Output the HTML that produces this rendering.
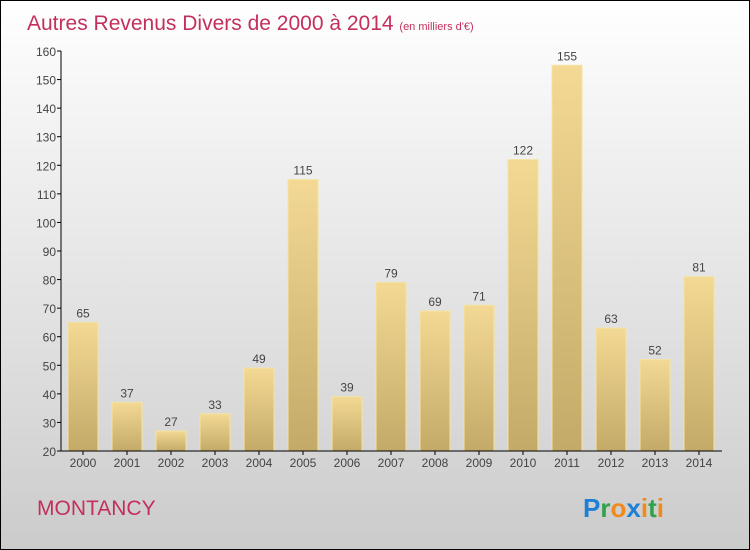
<!DOCTYPE html>
<html><head><meta charset="utf-8"><style>
body{margin:0}
#c{position:relative;width:748px;height:548px;border:1px solid #000;background:linear-gradient(#fff,#f4f4f4 20%,#d9d9d9 75%,#cbcbcb);font-family:"Liberation Sans",sans-serif;overflow:hidden}
</style></head><body>
<div id="c">
<svg width="748" height="548">
<defs><linearGradient id="g" x1="0" y1="0" x2="0" y2="1"><stop offset="0" stop-color="#f3d993"/><stop offset="1" stop-color="#c3aa68"/></linearGradient></defs>
<text x="26" y="29" font-size="21" fill="#c3305c">Autres Revenus Divers de 2000 à 2014 <tspan font-size="11">(en milliers d'€)</tspan></text>
<g id="plot"></g>
<text x="36" y="514" font-size="21" fill="#c3305c">MONTANCY</text>
<text x="582" y="516" font-size="26" font-weight="bold"><tspan fill="#1e7fd6">P</tspan><tspan fill="#2ea34a">r</tspan><tspan fill="#f08a1c">o</tspan><tspan fill="#1e7fd6">x</tspan><tspan fill="#f08a1c">i</tspan><tspan fill="#2ea34a">t</tspan><tspan fill="#f08a1c">i</tspan></text>
</svg></div>
<script>
const categories=["2000","2001","2002","2003","2004","2005","2006","2007","2008","2009","2010","2011","2012","2013","2014"];
const values=[65,37,27,33,49,115,39,79,69,71,122,155,63,52,81];
const ticks=[20,30,40,50,60,70,80,90,100,110,120,130,140,150,160];
const NS="http://www.w3.org/2000/svg";
const g=document.getElementById('plot');
const y=v=>450-(v-20)*400/140;
const x=i=>82+44*i;
function mk(t,a,txt){const e=document.createElementNS(NS,t);for(const k in a)e.setAttribute(k,a[k]);if(txt!==undefined)e.textContent=txt;g.appendChild(e);return e;}
ticks.forEach(t=>{
 const l=mk('line',{x1:56,x2:60,y1:y(t),y2:y(t),stroke:'#000'});
 
 
 const tx=mk('text',{x:55,y:y(t)+5,'font-size':12,fill:'#444','text-anchor':'end'},t);
 
 
});
values.forEach((v,i)=>{
 const r=mk('rect',{x:x(i)-15,y:y(v),width:30,height:450-y(v),fill:'url(#g)',stroke:'#f5e3a3','stroke-width':1});
 
 
 const vl=mk('text',{x:x(i),y:y(v)-5,'font-size':12,fill:'#444','text-anchor':'middle'},v);
 
 
 const tk=mk('line',{x1:x(i),x2:x(i),y1:450,y2:454,stroke:'#000'});
 
 
 const cl=mk('text',{x:x(i),y:466,'font-size':12,fill:'#444','text-anchor':'middle'},categories[i]);
 
 
});
const ya=mk('line',{x1:60,x2:60,y1:50,y2:450,stroke:'#000'});


const xa=mk('line',{x1:60,x2:721,y1:450,y2:450,stroke:'#000'});


</script>
</body></html>
